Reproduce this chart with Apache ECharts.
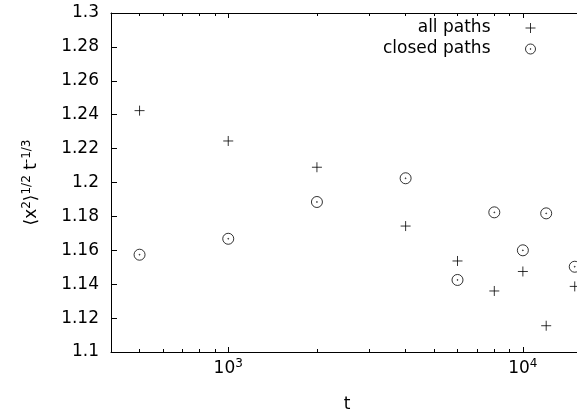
<!DOCTYPE html>
<html>
<head>
<meta charset="utf-8">
<script src="https://cdn.jsdelivr.net/npm/echarts@6/dist/echarts.min.js"></script>
<style>
  html, body { margin: 0; padding: 0; background: #fff; }
  #chart { width: 577px; height: 414px; }
</style>
</head>
<body>
<div id="chart"></div>
<script>
// time steps and the two series
const times = [500, 1000, 2000, 4000, 6000, 8000, 10000, 12000, 15000]
const allPaths = [1.2424, 1.2245, 1.209, 1.1743, 1.1537, 1.136, 1.1475, 1.1155, 1.1387]
const closedPaths = [1.1574, 1.1668, 1.1885, 1.2025, 1.1425, 1.1824, 1.1600, 1.1818, 1.1503]

const majorTicks = [1000, 10000]
const minorTicks = [500, 600, 700, 800, 900, 2000, 3000, 4000, 5000, 6000, 7000, 8000, 9000]
const xLabels = {1000: "3", 10000: "4"}

const font = "DejaVu Sans"
const plusPath = "path://M0,5L10,5M5,0L5,10"
const circlePath = "path://M10,5A5,5,0,1,1,0,5A5,5,0,1,1,10,5ZM5.4,5A0.4,0.4,0,1,1,4.6,5A0.4,0.4,0,1,1,5.4,5Z"
// legend icons padded on the left so the symbol sits away from its text
const plusIcon = "path://M0,5L0,5M30,5L40,5M35,0L35,10"
const circleIcon = "path://M0,5L0,5M40,5A5,5,0,1,1,30,5A5,5,0,1,1,40,5ZM35.4,5A0.4,0.4,0,1,1,34.6,5A0.4,0.4,0,1,1,35.4,5Z"

const chart = echarts.init(document.getElementById("chart"))

const xBase = {
  type: "log",
  min: 400,
  max: 16000,
  splitLine: {show: false},
  axisLine: {show: true, lineStyle: {color: "#000", width: 1}},
}

const xAxis = [
  {
    ...xBase,
    position: "bottom",
    name: "t",
    nameLocation: "middle",
    nameGap: 44,
    nameTextStyle: {fontFamily: font, fontSize: 17, color: "#000"},
    axisTick: {inside: true, length: 5, customValues: majorTicks, lineStyle: {color: "#000"}},
    axisLabel: {
      customValues: majorTicks,
      margin: 6,
      formatter: v => `{b|10}{s|${xLabels[v]}}`,
      rich: {
        b: {fontFamily: font, fontSize: 17, color: "#000", lineHeight: 22},
        s: {fontFamily: font, fontSize: 12, color: "#000", verticalAlign: "top", lineHeight: 12},
      },
    },
  },
  {
    ...xBase,
    position: "bottom",
    axisLine: {show: false},
    axisTick: {inside: true, length: 3, customValues: minorTicks, lineStyle: {color: "#000"}},
    axisLabel: {show: false},
  },
  {
    ...xBase,
    position: "top",
    axisTick: {inside: true, length: 5, customValues: majorTicks, lineStyle: {color: "#000"}},
    axisLabel: {show: false},
  },
  {
    ...xBase,
    position: "top",
    axisLine: {show: false},
    axisTick: {inside: true, length: 3, customValues: minorTicks, lineStyle: {color: "#000"}},
    axisLabel: {show: false},
  },
]

chart.setOption({
  animation: false,
  backgroundColor: "#fff",
  grid: {left: 111, right: -6, top: 13, bottom: 62, containLabel: false, outerBoundsMode: "none"},
  legend: {
    orient: "vertical",
    right: 36,
    top: 14,
    align: "right",
    itemWidth: 40,
    itemHeight: 10,
    itemGap: 3,
    textStyle: {fontFamily: font, fontSize: 17, color: "#000", lineHeight: 18},
    itemStyle: {color: "transparent", borderColor: "#000", borderWidth: 1},
    data: [
      {name: "all paths", icon: plusIcon},
      {name: "closed paths", icon: circleIcon},
    ],
  },
  xAxis,
  yAxis: {
    type: "value",
    min: 1.1,
    max: 1.3,
    interval: 0.02,
    splitLine: {show: false},
    axisLine: {show: true, lineStyle: {color: "#000", width: 1}},
    axisTick: {inside: true, length: 6, lineStyle: {color: "#000"}},
    axisLabel: {fontFamily: font, fontSize: 17, color: "#000", margin: 12},
    name: "{n|⟨x}{s|2}{n|⟩}{s|1/2}{n| t}{s|-1/3}",
    nameLocation: "middle",
    nameRotate: 90,
    nameGap: 68,
    nameTextStyle: {
      rich: {
        n: {fontFamily: font, fontSize: 17, color: "#000", lineHeight: 22},
        s: {fontFamily: font, fontSize: 12, color: "#000", verticalAlign: "top", lineHeight: 12},
      },
    },
  },
  series: [
    {
      name: "all paths",
      type: "scatter",
      xAxisIndex: 0,
      symbol: plusPath,
      symbolSize: 10,
      itemStyle: {color: "transparent", borderColor: "#000", borderWidth: 1},
      data: times.map((t, i) => [t, allPaths[i]]),
    },
    {
      name: "closed paths",
      type: "scatter",
      xAxisIndex: 0,
      symbol: circlePath,
      symbolSize: 11,
      itemStyle: {color: "transparent", borderColor: "#000", borderWidth: 1},
      data: times.map((t, i) => [t, closedPaths[i]]),
    },
  ],
})
</script>
</body>
</html>
